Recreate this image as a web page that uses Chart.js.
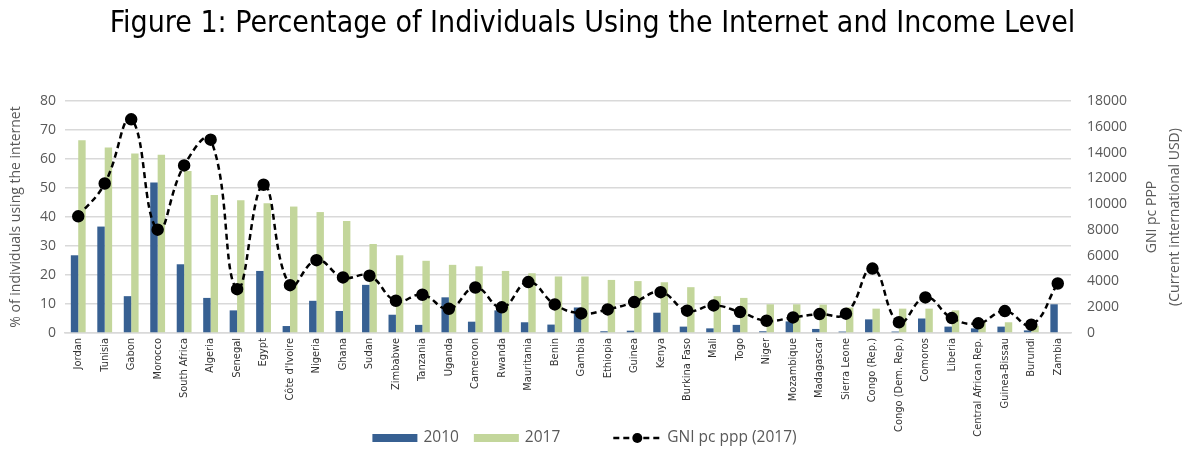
<!DOCTYPE html>
<html>
<head>
<meta charset="utf-8">
<script src="https://cdn.jsdelivr.net/npm/chart.js@4"></script>
<style>
  html, body { margin: 0; padding: 0; background: #fff; }
  #wrap { width: 1185px; height: 449px; }
</style>
</head>
<body>
<div id="wrap"><canvas id="myChartInternet"></canvas></div>
<script>
// internet use vs income

var countries = ['Jordan', 'Tunisia', 'Gabon', 'Morocco', 'South Africa', 'Algeria', 'Senegal', 'Egypt',
    "Côte d'Ivoire", 'Nigeria', 'Ghana', 'Sudan', 'Zimbabwe', 'Tanzania', 'Uganda', 'Cameroon', 'Rwanda',
    'Mauritania', 'Benin', 'Gambia', 'Ethiopia', 'Guinea', 'Kenya', 'Burkina Faso', 'Mali', 'Togo', 'Niger',
    'Mozambique', 'Madagascar', 'Sierra Leone', 'Congo (Rep.)', 'Congo (Dem. Rep.)', 'Comoros', 'Liberia',
    'Central African Rep.', 'Guinea-Bissau', 'Burundi', 'Zambia'];

var internet2010 = [26.8, 36.7, 12.7, 51.9, 23.7, 12.1, 7.8, 21.4, 2.4, 11.1, 7.6, 16.6, 6.3, 2.8, 12.3, 3.9,
    7.8, 3.7, 2.9, 8.8, 0.6, 0.8, 7.0, 2.2, 1.6, 2.8, 0.6, 4.0, 1.4, 0.5, 4.7, 0.5, 5.0, 2.2, 1.6, 2.2, 0.9, 9.9];

var internet2017 = [66.5, 64, 61.9, 61.5, 55.9, 47.6, 45.8, 44.7, 43.6, 41.7, 38.6, 30.7, 26.8, 24.9, 23.5, 23,
    21.4, 20.6, 19.5, 19.5, 18.3, 17.9, 17.5, 15.8, 12.7, 12.1, 9.9, 9.9, 9.8, 8.8, 8.4, 8.4, 8.4, 7.8, 4.0, 3.7, 2.5, null];

var gni2017 = [9050, 11600, 16580, 8020, 13000, 15000, 3400, 11500, 3710, 5650, 4310, 4440, 2500, 2970, 1880, 3530,
    1990, 3950, 2220, 1520, 1830, 2400, 3170, 1730, 2140, 1620, 950, 1210, 1470, 1500, 5000, 830, 2760, 1160,
    750, 1700, 640, 3840];

var legendNames = ['2010', '2017', 'GNI pc ppp (2017)'];

var blue = '#376092';
var green = '#c3d69b';
var grey = '#595959';

// right axis title (reads bottom to top) and the legend, drawn by hand
var extras = {
    id: 'extras',
    afterDraw: function (chart) {
        var ctx = chart.ctx;
        var s = chart.scales.y1;
        ctx.save();
        ctx.translate(s.left + 81, (s.top + s.bottom) / 2);
        ctx.rotate(-Math.PI / 2);
        ctx.textAlign = 'center';
        ctx.textBaseline = 'middle';
        ctx.fillStyle = grey;
        ctx.font = '14px "Open Sans"';
        ctx.fillText('GNI pc PPP', 0, 0);
        ctx.fillText('(Current international USD)', 0, 23);
        ctx.restore();

        // legend
        ctx.save();
        ctx.font = '15.5px "Open Sans"';
        ctx.textBaseline = 'middle';
        ctx.textAlign = 'left';
        var w = legendNames.map(function (t) { return ctx.measureText(t).width; });
        var total = 45 + 6 + w[0] + 15 + 45 + 6 + w[1] + 53 + 48 + 6 + w[2];
        var x = (chart.width - total) / 2 - 8;
        var y = 438;
        ctx.fillStyle = blue; ctx.fillRect(x, y - 4, 45, 8);
        ctx.fillStyle = grey; ctx.fillText(legendNames[0], x + 51, y);
        x += 51 + w[0] + 15;
        ctx.fillStyle = green; ctx.fillRect(x, y - 4, 45, 8);
        ctx.fillStyle = grey; ctx.fillText(legendNames[1], x + 51, y);
        x += 51 + w[1] + 53;
        ctx.strokeStyle = '#000'; ctx.lineWidth = 2.5; ctx.setLineDash([6, 4]);
        ctx.beginPath(); ctx.moveTo(x, y); ctx.lineTo(x + 48, y); ctx.stroke();
        ctx.setLineDash([]);
        ctx.fillStyle = '#000';
        ctx.beginPath(); ctx.arc(x + 24, y, 5, 0, Math.PI * 2); ctx.fill();
        ctx.fillStyle = grey; ctx.fillText(legendNames[2], x + 54, y);
        ctx.restore();
    }
};

new Chart("myChartInternet", {
    type: 'bar',
    data: {
        labels: countries,
        datasets: [{
            label: legendNames[0],
            data: internet2010,
            backgroundColor: blue,
            yAxisID: 'y',
            order: 2
        }, {
            label: legendNames[1],
            data: internet2017,
            backgroundColor: green,
            yAxisID: 'y',
            order: 2
        }, {
            type: 'line',
            label: legendNames[2],
            data: gni2017,
            yAxisID: 'y1',
            borderColor: '#000',
            borderWidth: 2.5,
            borderDash: [6, 4],
            pointRadius: 5,
            pointBackgroundColor: '#000',
            pointBorderColor: '#000',
            tension: 0.45,
            fill: false,
            order: 1
        }]
    },
    options: {
        responsive: true,
        maintainAspectRatio: false,
        animation: false,
        layout: { padding: { bottom: 12 } },
        datasets: {
            bar: { categoryPercentage: 0.56, barPercentage: 1.0 }
        },
        plugins: {
            title: {
                display: true,
                text: 'Figure 1: Percentage of Individuals Using the Internet and Income Level',
                color: '#000',
                font: { family: '"Liberation Sans Narrow", "DejaVu Sans Condensed", sans-serif', size: 30, weight: 'normal', lineHeight: 1.2 },
                padding: { top: 6, bottom: 59 }
            },
            legend: { display: false },
            tooltip: { enabled: false }
        },
        scales: {
            x: {
                grid: { display: false, drawTicks: false },
                border: { color: '#d9d9d9', width: 1.5 },
                ticks: {
                    autoSkip: false,
                    maxRotation: 90,
                    minRotation: 90,
                    padding: 5,
                    color: '#333',
                    font: { family: '"Liberation Sans Narrow", "DejaVu Sans Condensed", sans-serif', size: 11 }
                },
                afterFit: function (s) { s.height = 104; }
            },
            y: {
                position: 'left',
                min: 0,
                max: 80,
                ticks: { stepSize: 10, padding: 9, color: grey, font: { family: '"Open Sans"', size: 14 } },
                grid: { color: '#d9d9d9', lineWidth: 1.5, drawTicks: false },
                border: { display: false },
                title: {
                    display: true,
                    text: '% of individuals using the internet',
                    color: grey,
                    font: { family: '"Open Sans"', size: 14 },
                    padding: { top: 8, bottom: 0 }
                },
                afterFit: function (s) { s.width = 65; }
            },
            y1: {
                position: 'right',
                min: 0,
                max: 18000,
                ticks: {
                    stepSize: 2000, padding: 16, color: grey, font: { family: '"Open Sans"', size: 14 },
                    callback: function (v) { return String(v); }
                },
                grid: { display: false, drawTicks: false },
                border: { display: false },
                afterFit: function (s) { s.width = 114; }
            }
        }
    },
    plugins: [extras]
});
</script>
</body>
</html>
